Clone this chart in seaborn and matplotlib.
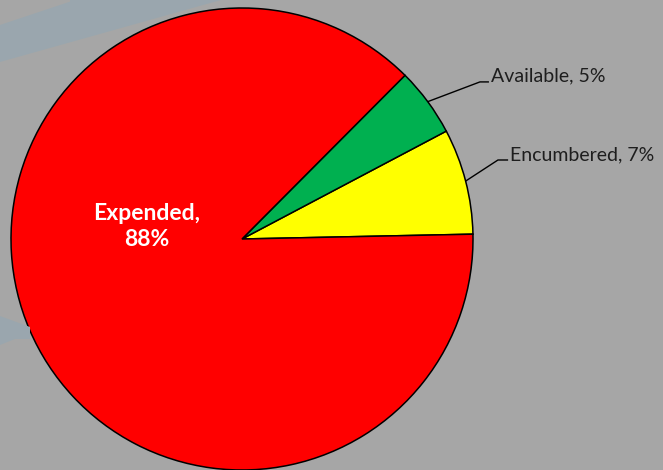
import matplotlib
matplotlib.use("Agg")
import matplotlib.pyplot as plt
import seaborn as sns
import numpy as np
from matplotlib.patches import Polygon

sns.set_style("white")
plt.rcParams['font.family'] = ['Lato', 'DejaVu Sans']

categories = ["Encumbered", "Available", "Expended"]
values = [7.4, 4.8, 87.8]
labels_pct = ["7%", "5%", "88%"]
colors = ["#FFFF00", "#00B050", "#FF0000"]

W, H = 663, 470
fig = plt.figure(figsize=(W / 100, H / 100), dpi=100)
bg = "#A6A6A6"
fig.patch.set_facecolor(bg)

# faint background streaks (figure pixel coords -> fraction)
def fpoly(pts, color):
    arr = np.array([[x / W, 1 - y / H] for x, y in pts])
    fig.patches.append(Polygon(arr, closed=True, transform=fig.transFigure,
                               facecolor=color, edgecolor="none", zorder=0))

streak = "#9AA6AE"
fpoly([(0, 25), (75, 0), (221, 0), (0, 62)], streak)
fpoly([(70, 0), (80, 0), (80, 7), (70, 7)], streak)
fpoly([(0, 316), (30, 327), (30, 339), (15, 339), (0, 345)], streak)

ax = fig.add_axes([0, 0, 1, 1])
ax.set_facecolor("none")
cx, cy, R = 242, 239, 231

start = 1.2
wedges, _ = ax.pie(values, colors=colors, startangle=start, counterclock=True,
                   radius=1.0, center=(0, 0),
                   wedgeprops=dict(edgecolor="black", linewidth=1.1))

ax.set_aspect("auto")
ax.set_xlim(-cx / R, (W - cx) / R)
ax.set_ylim(-(H - cy) / R, cy / R)
ax.axis("off")

# outside labels with leader lines
cum = np.cumsum([0] + values[:-1])
label_spec = {
    "Available": dict(elbow=(1.030, 0.680), end=1.069, text=(1.078, 0.706)),
    "Encumbered": dict(elbow=(1.108, 0.342), end=1.152, text=(1.160, 0.364)),
}
for i, cat in enumerate(categories):
    if cat not in label_spec:
        continue
    mid = np.deg2rad(start + 360 * (cum[i] + values[i] / 2) / 100)
    px, py = np.cos(mid), np.sin(mid)
    s = label_spec[cat]
    ex, ey = s["elbow"]
    ax.plot([px, ex, s["end"]], [py, ey, ey], color="black", lw=1.0,
            solid_capstyle="butt")
    ax.text(s["text"][0], s["text"][1], f"{cat}, {labels_pct[i]}",
            ha="left", va="center", fontsize=14, color="#1e1e1e")

# inside label for Expended
ax.text(-0.411, 0.056, f"Expended,\n{labels_pct[2]}", ha="center", va="center",
        fontsize=16.5, fontweight="bold", color="white", linespacing=1.3)

fig.savefig("out.png", dpi=100, facecolor=bg)
